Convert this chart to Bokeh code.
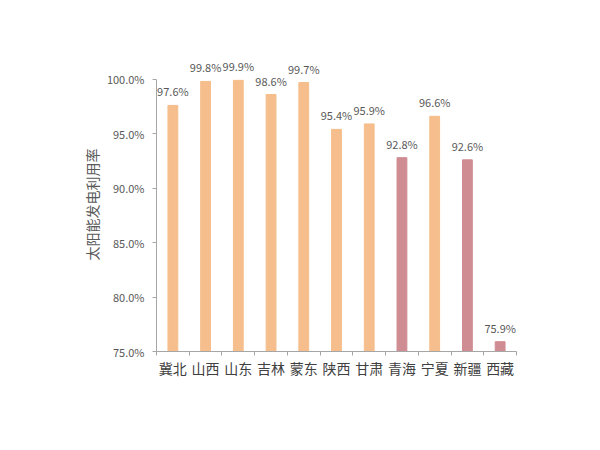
from bokeh.plotting import figure
from bokeh.models import ColumnDataSource, FixedTicker, Range1d, LabelSet
from bokeh.embed import file_html
from bokeh.resources import INLINE
from bokeh.core.properties import value

regions = ["冀北", "山西", "山东", "吉林", "蒙东", "陕西", "甘肃", "青海", "宁夏", "新疆", "西藏"]
rates = [97.6, 99.8, 99.9, 98.6, 99.7, 95.4, 95.9, 92.8, 96.6, 92.6, 75.9]
highlight = ["青海", "新疆", "西藏"]
y_ticks = [75, 80, 85, 90, 95, 100]

ORANGE = "#F5BE8C"
PINK = "#D08C93"
FONT = "Noto Sans CJK SC"

xs = list(range(len(regions)))
colors = [PINK if r in highlight else ORANGE for r in regions]
labels = ["%.1f%%" % v for v in rates]
src = ColumnDataSource(dict(x=xs, top=rates, color=colors, label=labels))

p = figure(width=584, height=434, output_backend="svg", toolbar_location=None,
           x_range=Range1d(-0.5, len(regions) - 0.5), y_range=Range1d(75, 102.0),
           min_border_left=156, min_border_right=68, min_border_top=57, min_border_bottom=83)
p.outline_line_color = None
p.grid.grid_line_color = None
p.background_fill_color = "white"
p.border_fill_color = "white"

p.vbar(x="x", top="top", bottom=75, width=0.3, color="color", source=src)

lab = LabelSet(x="x", y="top", text="label", source=src, text_align="center",
               text_baseline="bottom", y_offset=6, text_font=value(FONT),
               text_font_size="11px", text_color="#595959")
p.add_layout(lab)

# x axis
xa = p.xaxis[0]
xa.ticker = FixedTicker(ticks=xs, minor_ticks=[i - 0.5 for i in range(len(regions) + 1)])
xa.major_label_overrides = {i: r for i, r in enumerate(regions)}
xa.major_tick_line_color = None
xa.major_tick_in = 0
xa.major_tick_out = 0
xa.minor_tick_line_color = "#a6a6a6"
xa.minor_tick_in = 0
xa.minor_tick_out = 4
xa.axis_line_color = "#a6a6a6"
xa.major_label_text_font = FONT
xa.major_label_text_font_size = "14px"
xa.major_label_text_color = "#404040"
xa.major_label_standoff = 2

# y axis
ya = p.yaxis[0]
ya.ticker = FixedTicker(ticks=y_ticks, minor_ticks=[])
ya.bounds = (75, 100)
ya.major_label_overrides = {t: "%.1f%%" % t for t in y_ticks}
ya.major_tick_in = 0
ya.major_tick_out = 4
ya.major_tick_line_color = "#a6a6a6"
ya.axis_line_color = "#a6a6a6"
ya.major_label_text_font = FONT
ya.major_label_text_font_size = "11px"
ya.major_label_text_color = "#595959"
ya.major_label_standoff = 8
ya.axis_label = "太阳能发电利用率"
ya.axis_label_text_font = FONT
ya.axis_label_text_font_size = "14px"
ya.axis_label_text_font_style = "normal"
ya.axis_label_text_color = "#595959"
ya.axis_label_standoff = 2

open("out.html", "w").write(file_html(p, INLINE))
